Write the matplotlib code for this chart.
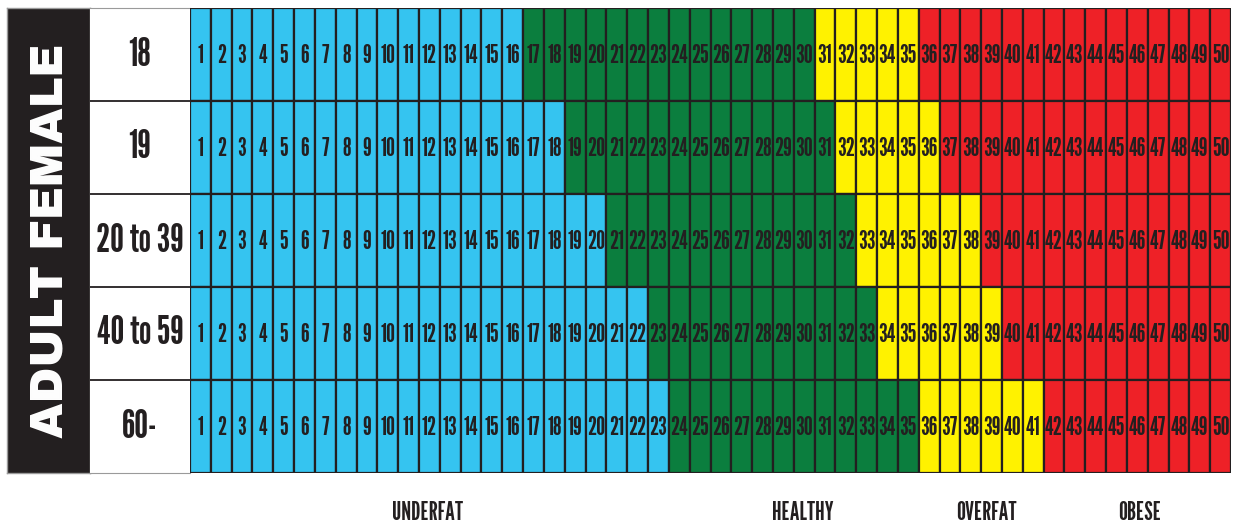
import matplotlib
matplotlib.use("Agg")
import matplotlib.pyplot as plt
import numpy as np

# Body-fat % chart, adult female
age_groups = ["18", "19", "20 to 39", "40 to 59", "60-"]
underfat_max = [16, 18, 20, 22, 23]
healthy_max = [30, 31, 32, 33, 35]
overfat_max = [35, 36, 38, 39, 41]
fat_values = list(range(1, 51))
categories = ["UNDERFAT", "HEALTHY", "OVERFAT", "OBESE"]
side_title = "ADULT FEMALE"

C_UNDER = "#35C4F0"
C_HEALTHY = "#0B7E3E"
C_OVER = "#FFF200"
C_OBESE = "#EE2127"
C_INK = "#231F20"

NARROW = ["League Gothic", "DejaVu Sans"]
HEAVY = ["Archivo Black", "DejaVu Sans"]

W, H = 1233, 529
fig = plt.figure(figsize=(W / 100, H / 100), dpi=100)

top, bottom = 8, 473
def box(x0, x1):
    return [x0 / W, 1 - bottom / H, (x1 - x0) / W, (bottom - top) / H]

# black side column
ax_side = fig.add_axes(box(7, 90))
ax_side.set_facecolor(C_INK)
ax_side.set_xticks([]); ax_side.set_yticks([])
for s in ax_side.spines.values():
    s.set_color("#9a9a9a"); s.set_linewidth(1)
ax_side.text(0.52, 0.5, side_title, rotation=90, ha="center", va="center",
             color="white", fontsize=33, family=HEAVY, transform=ax_side.transAxes)

# age labels
ax_lab = fig.add_axes(box(90, 190))
ax_lab.set_xlim(0, 1); ax_lab.set_ylim(len(age_groups), 0)
ax_lab.set_xticks([]); ax_lab.set_yticks([])
for s in ax_lab.spines.values():
    s.set_visible(False)
for side in ("top", "bottom"):
    ax_lab.spines[side].set_visible(True)
    ax_lab.spines[side].set_color("#9a9a9a")
for i, lab in enumerate(age_groups):
    ax_lab.text(0.5, i + 0.5, lab, ha="center", va="center", fontsize=28,
                family=NARROW, color=C_INK)
    if i > 0:
        ax_lab.axhline(i, color=C_INK, linewidth=1.3)

# value grid
ax = fig.add_axes(box(190, 1231))
ax.set_xlim(0.5, len(fat_values) + 0.5)
ax.set_ylim(len(age_groups), 0)
ax.set_xticks([]); ax.set_yticks([])
for s in ax.spines.values():
    s.set_visible(False)

vals = np.array(fat_values)
for i in range(len(age_groups)):
    colors = np.where(vals <= underfat_max[i], C_UNDER,
             np.where(vals <= healthy_max[i], C_HEALTHY,
             np.where(vals <= overfat_max[i], C_OVER, C_OBESE)))
    ax.bar(vals, 1, bottom=i, width=1, color=colors, edgecolor=C_INK,
           linewidth=1.6, align="center")
    for v in fat_values:
        ax.text(v, i + 0.52, str(v), ha="center", va="center", fontsize=18,
                family=NARROW, color=C_INK)

# category captions
cat_x = [428, 803, 986, 1140]
for name, x in zip(categories, cat_x):
    fig.text(x / W, 1 - 513 / H, name, ha="center", va="center", fontsize=18,
             family=NARROW, color=C_INK)

fig.savefig("out.png")
